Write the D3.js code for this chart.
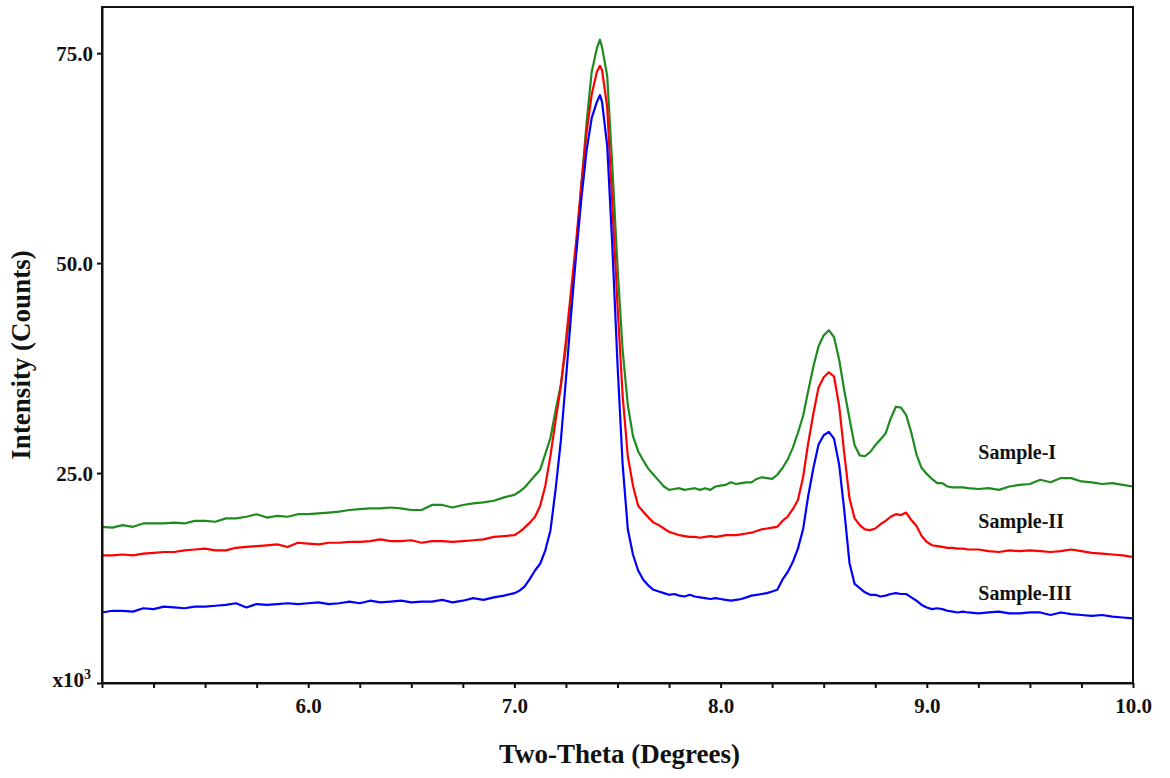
<!DOCTYPE html>
<html>
<head>
<meta charset="utf-8">
<script src="https://cdn.jsdelivr.net/npm/d3@7"></script>
<style>
  html, body { margin: 0; padding: 0; background: #ffffff; }
  svg { display: block; }
  text { font-family: "Liberation Serif", "Times New Roman", Times, serif; font-weight: bold; fill: #111; }
</style>
</head>
<body>
<svg id="chart" width="1170" height="778"></svg>
<script>
// ---- data ----
const theta = [
  5.00,5.05,5.10,5.15,5.20,5.25,5.30,5.35,5.40,5.45,5.50,5.55,5.60,5.65,5.70,5.75,5.80,5.85,5.90,5.95,
  6.00,6.05,6.10,6.15,6.20,6.25,6.30,6.35,6.40,6.45,6.50,6.55,6.60,6.65,6.70,6.75,6.80,6.85,6.90,6.95,
  7.000,7.025,7.050,7.075,7.100,7.125,7.150,7.175,7.200,7.225,7.250,7.275,7.300,7.325,7.350,7.375,7.400,7.415,
  7.425,7.450,7.475,7.500,7.525,7.550,7.575,7.600,7.625,7.650,7.675,7.700,7.725,7.750,7.775,7.800,7.825,7.850,
  7.875,7.900,7.925,7.950,7.975,8.000,8.025,8.050,8.075,8.100,8.125,8.150,8.175,8.200,8.225,8.250,8.275,8.300,
  8.325,8.350,8.375,8.400,8.425,8.450,8.475,8.500,8.525,8.550,8.575,8.600,8.625,8.650,8.675,8.700,8.725,8.750,
  8.775,8.800,8.825,8.850,8.875,8.900,8.925,8.950,8.975,9.000,9.025,9.050,9.075,9.100,9.125,9.150,9.175,9.200,
  9.25,9.30,9.35,9.40,9.45,9.50,9.55,9.60,9.65,9.70,9.75,9.80,9.85,9.90,9.95,10.00
];

// Sample-I (green), counts x10^3
const sampleI = [
  18.6,18.5,18.8,18.6,19.0,19.0,19.0,19.1,19.0,19.3,19.3,19.2,19.6,19.6,19.8,20.1,19.7,19.9,19.8,20.1,
  20.1,20.2,20.3,20.4,20.6,20.7,20.8,20.8,20.9,20.8,20.6,20.6,21.2,21.2,20.9,21.2,21.4,21.5,21.7,22.1,
  22.4,22.8,23.3,24.0,24.7,25.4,27.3,29.2,32.5,35.5,40.0,45.5,51.8,59.3,66.7,72.8,75.6,76.6,
  75.7,72.3,61.5,49.6,39.6,33.1,29.4,27.6,26.5,25.5,24.8,24.1,23.4,23.0,23.1,23.2,23.0,23.1,
  23.2,23.0,23.2,23.0,23.4,23.5,23.6,23.9,23.7,23.8,23.9,23.9,24.3,24.5,24.4,24.3,24.8,25.6,
  26.6,28.0,29.8,31.8,34.8,37.7,40.1,41.4,42.0,41.2,38.5,34.8,31.5,28.3,27.1,27.0,27.5,28.3,
  29.0,29.7,31.5,32.9,32.8,31.9,29.8,27.2,25.6,24.9,24.3,23.8,23.8,23.4,23.3,23.3,23.3,23.2,
  23.1,23.2,23.0,23.4,23.6,23.7,24.2,23.9,24.4,24.4,24.0,23.9,23.7,23.8,23.6,23.4
];

// Sample-II (red)
const sampleII = [
  15.2,15.2,15.3,15.2,15.4,15.5,15.6,15.6,15.8,15.9,16.0,15.8,15.8,16.1,16.2,16.3,16.4,16.5,16.2,16.7,
  16.6,16.5,16.7,16.7,16.8,16.8,16.9,17.1,16.9,16.9,17.0,16.7,16.9,16.9,16.8,16.9,17.0,17.1,17.4,17.5,
  17.6,18.0,18.5,19.1,19.8,21.1,23.5,27.1,31.3,35.3,40.8,46.8,52.7,59.5,65.5,70.1,72.8,73.5,
  73.0,68.6,57.0,45.0,34.2,27.0,23.5,21.1,20.4,19.7,19.1,18.8,18.4,18.0,17.8,17.6,17.5,17.4,
  17.4,17.3,17.4,17.5,17.4,17.5,17.6,17.6,17.6,17.7,17.8,17.9,18.1,18.3,18.4,18.5,18.6,19.3,
  19.8,20.7,21.8,24.5,28.6,32.1,35.2,36.4,37.0,36.5,33.0,27.3,22.0,19.6,18.8,18.3,18.2,18.4,
  18.9,19.3,19.8,20.1,20.0,20.3,19.4,18.7,17.5,16.8,16.4,16.3,16.2,16.1,16.1,16.0,16.0,15.9,
  15.9,15.7,15.6,15.8,15.7,15.8,15.7,15.6,15.7,15.9,15.7,15.5,15.4,15.3,15.2,15.0
];

// Sample-III (blue)
const sampleIII = [
  8.4,8.6,8.6,8.5,8.9,8.8,9.1,9.0,8.9,9.1,9.1,9.2,9.3,9.5,9.0,9.4,9.3,9.4,9.5,9.4,
  9.5,9.6,9.4,9.5,9.7,9.5,9.8,9.6,9.7,9.8,9.6,9.7,9.7,9.9,9.6,9.8,10.1,9.9,10.2,10.4,
  10.7,11.0,11.5,12.4,13.4,14.2,15.8,18.2,23.1,28.8,36.2,43.9,51.2,57.7,63.4,67.3,69.2,70.0,
  69.2,64.0,52.0,38.0,26.0,18.3,15.3,13.4,12.3,11.6,11.1,10.9,10.7,10.5,10.6,10.4,10.3,10.5,
  10.3,10.2,10.1,10.0,10.1,10.0,9.9,9.8,9.9,10.0,10.2,10.4,10.5,10.6,10.7,10.9,11.1,12.3,
  13.2,14.4,16.0,18.3,22.3,25.6,28.4,29.5,29.9,29.1,26.0,20.5,14.3,11.8,11.3,10.8,10.5,10.5,
  10.3,10.4,10.6,10.7,10.6,10.6,10.2,9.8,9.3,9.0,8.8,8.9,8.8,8.6,8.5,8.4,8.5,8.4,
  8.3,8.4,8.5,8.3,8.3,8.4,8.4,8.1,8.4,8.2,8.1,8.0,8.1,7.9,7.8,7.7
];

const seriesNames = ["Sample-I", "Sample-II", "Sample-III"];
const seriesColors = ["#1f8a1f", "#ff0000", "#0000ff"];
const seriesValues = [sampleI, sampleII, sampleIII];
const labelAnchors = [[9.25, 26.7], [9.25, 18.45], [9.25, 9.9]]; // label positions in data units

const xTicks = [5.0,5.25,5.5,5.75,6.0,6.25,6.5,6.75,7.0,7.25,7.5,7.75,8.0,8.25,8.5,8.75,9.0,9.25,9.5,9.75,10.0];
const xTickLabels = {6: "6.0", 7: "7.0", 8: "8.0", 9: "9.0", 10: "10.0"};
const yTicks = [0, 25, 50, 75];
const yTickLabels = {25: "25.0", 50: "50.0", 75: "75.0"};

// ---- layout ----
const svg = d3.select("#chart");
const M = {left: 102, top: 7, right: 1170 - 1133, bottom: 778 - 683};
const W = 1170 - M.left - M.right;
const H = 778 - M.top - M.bottom;

const x = d3.scaleLinear().domain([5, 10]).range([0, W]);
const y = d3.scaleLinear().domain([0, 80.5]).range([H, 0]);

const g = svg.append("g").attr("transform", `translate(${M.left},${M.top})`);

// curves
const line = d3.line().x(d => x(d[0])).y(d => y(d[1]));
seriesValues.forEach((vals, i) => {
  const pts = theta.map((t, k) => [t, vals[k]]);
  g.append("path")
    .datum(pts)
    .attr("d", line)
    .attr("fill", "none")
    .attr("stroke", seriesColors[i])
    .attr("stroke-width", 2.2)
    .attr("stroke-linejoin", "round");
});

// frame
g.append("rect")
  .attr("x", 0).attr("y", 0).attr("width", W).attr("height", H)
  .attr("fill", "none").attr("stroke", "#111").attr("stroke-width", 2);

// x axis
const xAxis = g.append("g").attr("transform", `translate(0,${H})`)
  .call(d3.axisBottom(x).tickValues(xTicks).tickSizeInner(5).tickSizeOuter(0)
    .tickFormat(d => xTickLabels[Math.round(d * 100) / 100] || ""));
xAxis.select(".domain").attr("stroke", "#111").attr("stroke-width", 2);
xAxis.selectAll(".tick line").attr("stroke", "#111").attr("stroke-width", 2);
xAxis.selectAll(".tick text")
  .attr("y", 30).attr("dy", 0)
  .style("font-family", '"Liberation Serif", "Times New Roman", serif')
  .style("font-weight", "bold").style("font-size", "21px").attr("fill", "#111");

// y axis
const yAxis = g.append("g")
  .call(d3.axisLeft(y).tickValues(yTicks).tickSizeInner(5).tickSizeOuter(0)
    .tickFormat(d => yTickLabels[d] || ""));
yAxis.select(".domain").attr("stroke", "#111").attr("stroke-width", 2);
yAxis.selectAll(".tick line").attr("stroke", "#111").attr("stroke-width", 2);
yAxis.selectAll(".tick text")
  .attr("x", -9).attr("dy", "0.36em")
  .style("font-family", '"Liberation Serif", "Times New Roman", serif')
  .style("font-weight", "bold").style("font-size", "21px").attr("fill", "#111");

// multiplier label at y = 0
const mult = g.append("text")
  .attr("x", -11).attr("y", y(0) + 4)
  .attr("text-anchor", "end")
  .style("font-size", "21px");
mult.append("tspan").text("x10");
mult.append("tspan").attr("dy", -8).style("font-size", "14px").text("3");

// series labels
seriesNames.forEach((name, i) => {
  g.append("text")
    .attr("x", x(labelAnchors[i][0]))
    .attr("y", y(labelAnchors[i][1]))
    .style("font-size", "20px")
    .text(name);
});

// axis titles
svg.append("text")
  .attr("x", M.left + W / 2 + 2)
  .attr("y", 763)
  .attr("text-anchor", "middle")
  .style("font-size", "27px")
  .text("Two-Theta (Degrees)");

svg.append("text")
  .attr("transform", `translate(30,${M.top + 348}) rotate(-90)`)
  .attr("text-anchor", "middle")
  .style("font-size", "27px")
  .text("Intensity (Counts)");
</script>
</body>
</html>
